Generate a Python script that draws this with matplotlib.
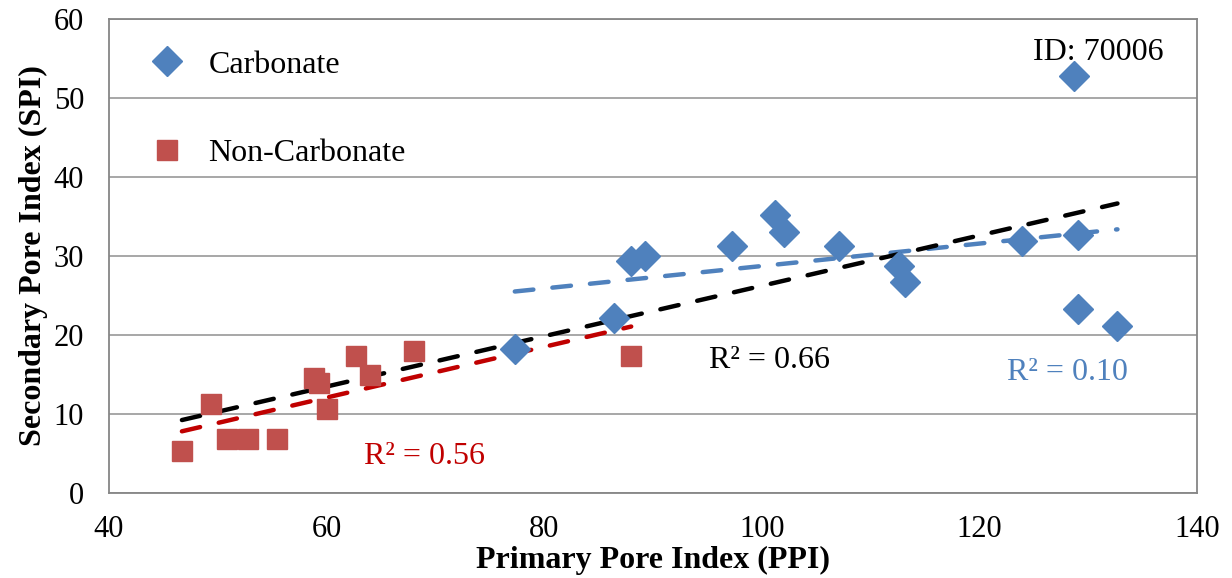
import numpy as np
import matplotlib
matplotlib.use('Agg')
import matplotlib.pyplot as plt

plt.rcParams['font.family'] = ['Liberation Serif', 'DejaVu Serif']

# data
carb_ppi = [77.3, 86.4, 88.0, 89.3, 97.3, 101.2, 102.0, 107.1, 112.6, 113.2,
            123.9, 129.1, 129.1, 132.7, 128.7]
carb_spi = [18.2, 22.1, 29.4, 30.0, 31.3, 35.2, 33.0, 31.3, 28.8, 26.7,
            31.9, 32.7, 23.3, 21.1, 52.8]
non_ppi = [46.7, 49.4, 50.8, 52.8, 55.4, 58.8, 59.3, 60.0, 62.7, 64.0, 68.0, 88.0]
non_spi = [5.3, 11.3, 6.8, 6.8, 6.8, 14.6, 13.9, 10.7, 17.3, 14.9, 18.0, 17.3]

blue = '#4F81BD'
red = '#C0504D'
dark_red = '#C00000'

fig = plt.figure(figsize=(12.32, 5.78), dpi=100)
ax = fig.add_axes([0.0885, 0.147, 0.883, 0.820])

ax.plot(carb_ppi, carb_spi, 'D', color=blue, markersize=15, label='Carbonate', zorder=3)
ax.plot(non_ppi, non_spi, 's', color=red, markersize=14.5, label='Non-Carbonate', zorder=3)

def trend(x, y, color):
    x = np.asarray(x); y = np.asarray(y)
    m, b = np.polyfit(x, y, 1)
    xs = np.array([x.min(), x.max()])
    ax.plot(xs, m * xs + b, color=color, lw=3.2, dashes=(4.2, 4.3),
            dash_capstyle='round', zorder=2)

trend(carb_ppi, carb_spi, blue)
trend(non_ppi, non_spi, dark_red)
trend(carb_ppi + non_ppi, carb_spi + non_spi, 'black')

fs = 23
ax.text(130.9, 55.8, 'ID: 70006', fontsize=fs, ha='center', va='center')
ax.text(100.75, 16.8, 'R² = 0.66', fontsize=fs, color='black', ha='center', va='center')
ax.text(128.1, 15.3, 'R² = 0.10', fontsize=fs, color=blue, ha='center', va='center')
ax.text(69.0, 4.6, 'R² = 0.56', fontsize=fs, color=dark_red, ha='center', va='center')

ax.set_xlim(40, 140)
ax.set_ylim(0, 60)
ax.set_xticks(range(40, 141, 20))
ax.set_yticks(range(0, 61, 10))
ax.tick_params(axis='both', labelsize=22, length=0)
ax.tick_params(axis='x', pad=16)
ax.tick_params(axis='y', pad=18)
ax.yaxis.grid(True, color='#A0A0A0', lw=1.3)
ax.set_axisbelow(True)
for s in ax.spines.values():
    s.set_color('#868686')
    s.set_linewidth(1.3)

ax.set_xlabel('Primary Pore Index (PPI)', fontsize=fs, fontweight='bold', va='center')
ax.xaxis.set_label_coords(0.5, -0.143)
ax.set_ylabel('Secondary Pore Index (SPI)', fontsize=fs, fontweight='bold', labelpad=4)

ax.legend(loc='upper left', frameon=False, fontsize=fs, labelspacing=1.85,
          handletextpad=0.3, borderaxespad=0, borderpad=0,
          bbox_to_anchor=(0.1096, 0.913), bbox_transform=fig.transFigure)

plt.savefig('out.png', dpi=100)
